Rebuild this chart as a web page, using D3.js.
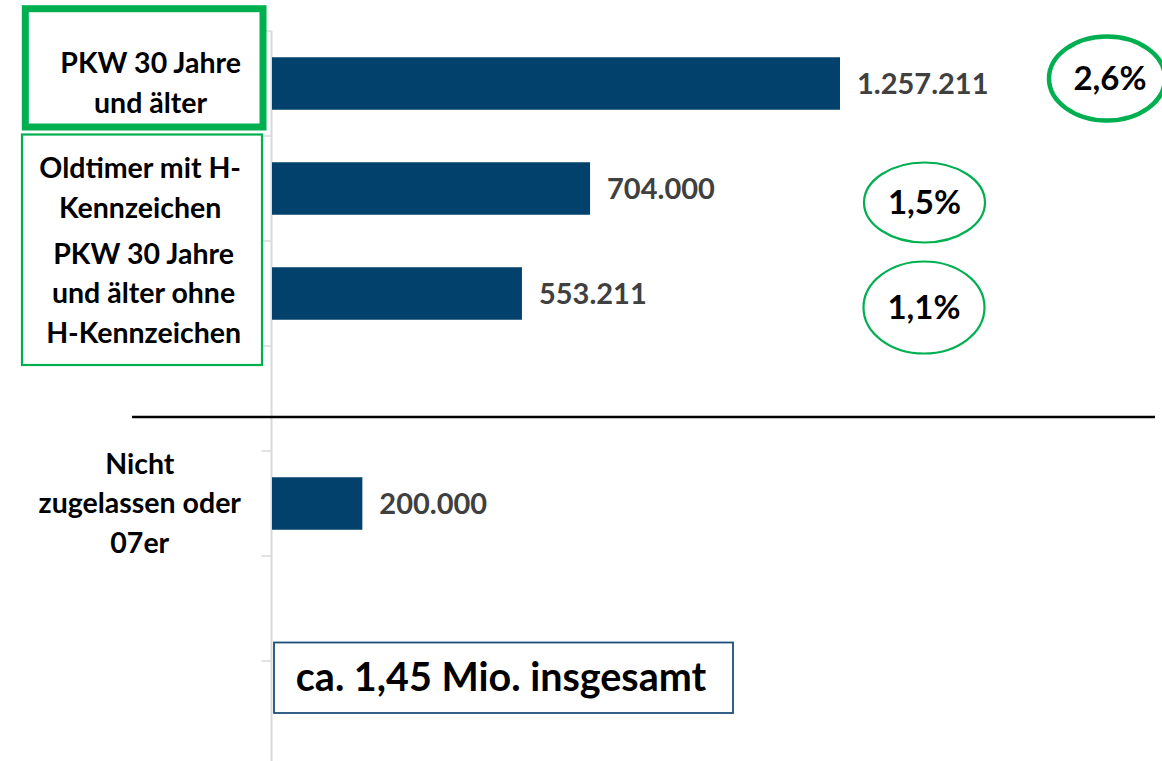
<!DOCTYPE html>
<html>
<head>
<meta charset="utf-8">
<script src="https://cdn.jsdelivr.net/npm/d3@7"></script>
<style>
  body { margin: 0; background: #fff; }
  text { font-family: Lato, "Open Sans", sans-serif; font-weight: bold; }
</style>
</head>
<body>
<div id="chart"></div>
<script>
// ---- data ----
var categories = ["pkw30", "hKennz", "ohneH", "gap1", "nicht", "gap2", "total"];
var categoryLines = {
  pkw30: ["PKW 30 Jahre", "und älter"],
  hKennz: ["Oldtimer mit H-", "Kennzeichen"],
  ohneH: ["PKW 30 Jahre", "und älter ohne", "H-Kennzeichen"],
  gap1: [],
  nicht: ["Nicht", "zugelassen oder", "07er"],
  gap2: [],
  total: []
};
var barCategories = ["pkw30", "hKennz", "ohneH", "nicht"];
var barValues = [1257211, 704000, 553211, 200000];
var valueLabels = ["1.257.211", "704.000", "553.211", "200.000"];
var shareCategories = ["pkw30", "hKennz", "ohneH"];
var shareLabels = ["2,6%", "1,5%", "1,1%"];
var totalLabel = "ca. 1,45 Mio. insgesamt";

var attrs = {
  svgWidth: 1162,
  svgHeight: 761,
  axisX: 271.5,
  barColor: '#02416b',
  green: '#00b050',
  labelRight: 241,
  lineHeight: 39.5,
  labelSize: 28.5,
  valueSize: 29,
  shareSize: 33,
  totalSize: 39.5
};

var svg = d3.select('#chart').append('svg')
  .attr('width', attrs.svgWidth)
  .attr('height', attrs.svgHeight);

// scales
var y = d3.scaleBand().domain(categories).range([31, 766])
  .paddingInner(0.5).paddingOuter(0.25);
var x = d3.scaleLinear().domain([0, 1400000]).range([272, 904.5]);
var step = y.step();

// axis (ticks at category boundaries)
var axis = svg.append('g').attr('class', 'axis');
axis.append('line')
  .attr('x1', attrs.axisX).attr('x2', attrs.axisX)
  .attr('y1', y.range()[0]).attr('y2', y.range()[1])
  .attr('stroke', '#d9d9d9').attr('stroke-width', 2);
axis.selectAll('.tick').data(categories).enter().append('line')
  .attr('class', 'tick')
  .attr('x1', attrs.axisX - 10).attr('x2', attrs.axisX)
  .attr('y1', d => y(d) - step * 0.25).attr('y2', d => y(d) - step * 0.25)
  .attr('stroke', '#d9d9d9').attr('stroke-width', 1.5);

// bars
var barData = barCategories.map((c, i) => ({ cat: c, value: barValues[i], label: valueLabels[i] }));
svg.selectAll('.bar').data(barData).enter().append('rect')
  .attr('class', 'bar')
  .attr('x', x(0))
  .attr('y', d => y(d.cat))
  .attr('width', d => x(d.value) - x(0))
  .attr('height', y.bandwidth())
  .attr('fill', attrs.barColor);

// value labels
var capV = attrs.valueSize * 0.72;
svg.selectAll('.value').data(barData).enter().append('text')
  .attr('class', 'value')
  .attr('x', d => x(d.value) + 17)
  .attr('y', d => y(d.cat) + y.bandwidth() / 2 + capV / 2)
  .attr('fill', '#404040')
  .style('font-size', attrs.valueSize + 'px')
  .text(d => d.label);

// category labels, centred block whose right edge sits at labelRight
var capL = attrs.labelSize * 0.68;
categories.forEach(function (c) {
  var lines = categoryLines[c];
  if (!lines.length) return;
  var cy = y(c) + y.bandwidth() / 2;
  var g = svg.append('g').attr('class', 'cat-label');
  var texts = g.selectAll('text').data(lines).enter().append('text')
    .attr('text-anchor', 'middle')
    .attr('fill', '#000')
    .style('font-size', attrs.labelSize + 'px')
    .attr('y', (d, i) => cy + (i - (lines.length - 1) / 2) * attrs.lineHeight + capL / 2)
    .text(d => d);
  var maxW = d3.max(texts.nodes(), n => n.getComputedTextLength());
  texts.attr('x', attrs.labelRight - maxW / 2);
});

// green frames round the labels
svg.append('rect')
  .attr('x', 25.3).attr('y', 8.7).attr('width', 237.7).attr('height', 118.3)
  .attr('fill', 'none').attr('stroke', attrs.green).attr('stroke-width', 7);
svg.append('rect')
  .attr('x', 22).attr('y', 134.5).attr('width', 240).attr('height', 230.5)
  .attr('fill', 'none').attr('stroke', attrs.green).attr('stroke-width', 2.2);

// share ellipses
var shareData = shareCategories.map((c, i) => ({ cat: c, label: shareLabels[i] }));
var shareStyle = [
  { dx: 1107, dy: -5, rx: 58, ry: 42, sw: 4.5 },
  { dx: 924.5, dy: 14, rx: 60.5, ry: 40, sw: 2.2 },
  { dx: 924, dy: 14, rx: 60.5, ry: 46, sw: 2.2 }
];
var capS = attrs.shareSize * 0.72;
var shares = svg.selectAll('.share').data(shareData).enter().append('g').attr('class', 'share')
  .attr('transform', (d, i) => 'translate(' + shareStyle[i].dx + ',' + (y(d.cat) + y.bandwidth() / 2 + shareStyle[i].dy) + ')');
shares.append('ellipse')
  .attr('rx', (d, i) => shareStyle[i].rx).attr('ry', (d, i) => shareStyle[i].ry)
  .attr('fill', 'none').attr('stroke', attrs.green)
  .attr('stroke-width', (d, i) => shareStyle[i].sw);
shares.append('text')
  .attr('text-anchor', 'middle')
  .attr('x', (d, i) => i === 0 ? 3 : 0)
  .attr('y', capS / 2)
  .attr('fill', '#000')
  .style('font-size', attrs.shareSize + 'px')
  .text(d => d.label);

// separator
svg.append('line')
  .attr('x1', 132).attr('x2', 1155).attr('y1', 417).attr('y2', 417)
  .attr('stroke', '#000').attr('stroke-width', 2.5);

// total box
var capT = attrs.totalSize * 0.7;
svg.append('rect')
  .attr('x', 274).attr('y', 642.5).attr('width', 459).attr('height', 70.5)
  .attr('fill', '#fff').attr('stroke', '#1f4e79').attr('stroke-width', 1.8);
svg.append('text')
  .attr('x', 501).attr('y', 677.5 + capT / 2)
  .attr('text-anchor', 'middle')
  .attr('fill', '#000')
  .style('font-size', attrs.totalSize + 'px')
  .text(totalLabel);
</script>
</body>
</html>
